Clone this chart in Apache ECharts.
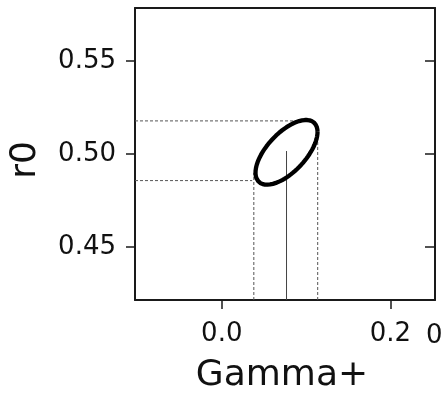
<!DOCTYPE html>
<html>
<head>
<meta charset="utf-8">
<script src="https://cdn.jsdelivr.net/npm/echarts@6/dist/echarts.min.js"></script>
<style>
  html, body { margin: 0; padding: 0; background: #fff; }
  #chart { width: 443px; height: 399px; }
</style>
</head>
<body>
<div id="chart"></div>
<script>
// Axis ticks and visible ranges
const gammaTicks = [0.0, 0.2];
const r0Ticks = [0.45, 0.50, 0.55];
const gammaRange = [-0.103, 0.253];
const r0Range = [0.4215, 0.5785];

// Joint estimate of (Gamma+, r0): means, standard deviations, correlation
const meanValues = [0.0768, 0.5009];
const sigmaValues = [0.0368, 0.0174];
const correlation = [0.63];

// Marginal one-sigma guides
const gammaGuideX = [0.0380, 0.1138];      // dashed verticals
const gammaGuideTop = [0.4899, 0.5119];    // r0 where each vertical stops
const r0GuideY = [0.4857, 0.5178];         // dashed horizontals
const r0GuideEnd = [0.036, 0.100];         // Gamma+ where each horizontal stops

// Best-fit marker (solid vertical)
const bestFit = [0.0768, 0.5016];

// Neighbouring panel's first tick label, running off the right edge
const neighbourLabel = ['0.0'];

const FONT = 'DejaVu Sans';

// One-sigma contour of the bivariate normal
function sigmaEllipse(mean, sd, rho) {
  const pts = [];
  const k = Math.sqrt(1 - rho * rho);
  for (let i = 0; i <= 180; i++) {
    const t = (i / 180) * 2 * Math.PI;
    pts.push([
      mean[0] + sd[0] * Math.cos(t),
      mean[1] + sd[1] * (rho * Math.cos(t) + k * Math.sin(t))
    ]);
  }
  return pts;
}

const guideStyle = { color: '#555', width: 1, type: [3, 2] };
const series = [];

gammaGuideX.forEach((x, i) => {
  series.push({
    type: 'line', symbol: 'none', silent: true,
    data: [[x, r0Range[0]], [x, gammaGuideTop[i]]],
    lineStyle: guideStyle, z: 2
  });
});
r0GuideY.forEach((y, i) => {
  series.push({
    type: 'line', symbol: 'none', silent: true,
    data: [[gammaRange[0], y], [r0GuideEnd[i], y]],
    lineStyle: guideStyle, z: 2
  });
});
series.push({
  type: 'line', symbol: 'none', silent: true,
  data: [[bestFit[0], r0Range[0]], [bestFit[0], bestFit[1]]],
  lineStyle: { color: '#444', width: 1 }, z: 2
});
series.push({
  type: 'line', symbol: 'none', silent: true, smooth: false,
  data: sigmaEllipse(meanValues, sigmaValues, correlation[0]),
  lineStyle: { color: '#000', width: 4.3, join: 'round' }, z: 3
});

const spine = { show: true, onZero: false, lineStyle: { color: '#1a1a1a', width: 2 } };
const labelText = { color: '#111', fontFamily: FONT, fontSize: 26 };

const option = {
  animation: false,
  backgroundColor: '#fff',
  grid: { left: 132, top: 8, right: 8, bottom: 90, containLabel: false },
  xAxis: [
    {
      type: 'value', position: 'bottom',
      min: gammaRange[0], max: gammaRange[1],
      name: 'Gamma+', nameLocation: 'middle', nameGap: 58,
      nameTextStyle: { color: '#111', fontFamily: FONT, fontSize: 36, padding: [0, 6, 0, 0] },
      axisLine: spine,
      axisTick: { show: true, length: 9, inside: false, customValues: gammaTicks,
                  lineStyle: { color: '#1a1a1a', width: 1.5 } },
      axisLabel: Object.assign({ margin: 21, customValues: gammaTicks,
                                 formatter: v => v.toFixed(1) }, labelText),
      splitLine: { show: false }
    },
    {
      type: 'value', position: 'top',
      min: gammaRange[0], max: gammaRange[1],
      axisLine: spine, axisTick: { show: false }, axisLabel: { show: false },
      splitLine: { show: false }
    }
  ],
  yAxis: [
    {
      type: 'value', position: 'left',
      min: r0Range[0], max: r0Range[1],
      name: 'r0', nameLocation: 'middle', nameGap: 91, nameRotate: 90,
      nameTextStyle: { color: '#111', fontFamily: FONT, fontSize: 36, padding: [0, 12, 0, 0] },
      axisLine: spine,
      axisTick: { show: true, length: 9, inside: false, customValues: r0Ticks,
                  lineStyle: { color: '#1a1a1a', width: 1.5 } },
      axisLabel: Object.assign({ margin: 19, customValues: r0Ticks,
                                 formatter: v => v.toFixed(2) }, labelText),
      splitLine: { show: false }
    },
    {
      type: 'value', position: 'right',
      min: r0Range[0], max: r0Range[1],
      axisLine: spine,
      axisTick: { show: true, length: 10, inside: true, customValues: r0Ticks,
                  lineStyle: { color: '#1a1a1a', width: 1.5 } },
      axisLabel: { show: false },
      splitLine: { show: false }
    }
  ],
  graphic: [
    {
      type: 'text', left: 426, top: 323,
      style: { text: neighbourLabel[0], fill: '#111', font: '26px "DejaVu Sans"' }
    }
  ],
  series: series
};

const chart = echarts.init(document.getElementById('chart'), null, { renderer: 'canvas' });
chart.setOption(option);
</script>
</body>
</html>
